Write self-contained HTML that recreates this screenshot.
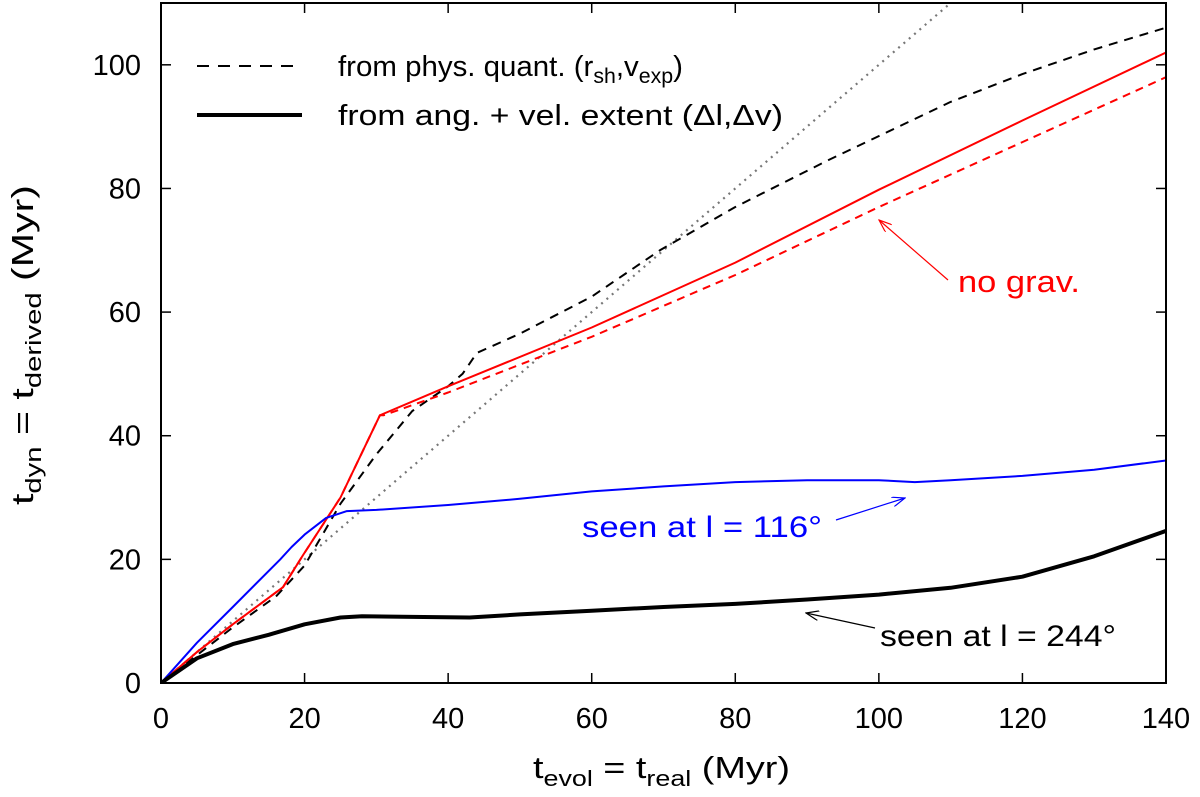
<!DOCTYPE html>
<html><head><meta charset="utf-8"><style>
body{margin:0;background:#fff}
svg text{font-family:"Liberation Sans",sans-serif}
</style></head><body>
<svg id="c" width="1200" height="792">
<defs>
<marker id="ak" markerWidth="14" markerHeight="10" refX="13" refY="5" orient="auto" markerUnits="userSpaceOnUse"><path d="M0,0 L13,5 L0,10" fill="none" stroke="#000" stroke-width="1.2"/></marker>
<marker id="ab" markerWidth="14" markerHeight="10" refX="13" refY="5" orient="auto" markerUnits="userSpaceOnUse"><path d="M0,0 L13,5 L0,10" fill="none" stroke="#00f" stroke-width="1.2"/></marker>
<marker id="arr" markerWidth="14" markerHeight="10" refX="13" refY="5" orient="auto" markerUnits="userSpaceOnUse"><path d="M0,0 L13,5 L0,10" fill="none" stroke="#f00" stroke-width="1.2"/></marker>
</defs>
</svg>
<script>
const xTicks=[0,20,40,60,80,100,120,140];
const yTicks=[0,20,40,60,80,100];
const redX=[0,5,10,17,19.8,25,30.5,40,60,80,100,120,140];
const redY=[0,5,9.5,15.5,20.7,30,43.3,48,57.5,68,79.8,91,102];
const redDX=[0,5,10,17,19.8,25,30.5,31,40,60,80,100,120,140];
const redDY=[0,5,9.5,15.5,20.7,30,43.3,43.3,47,56,66,77,87.5,98];
const blkDX=[0,10,16,20,25,30,35,40,42,44,50,60,69.5,80,93,110,120,130,140];
const blkDY=[0,9,14,19,29,37,44,48,50,53.4,56.5,62.5,70,77,84.6,94,98.5,102.5,106];
const dotX=[0,110];
const dotY=[0,110];
const bluX=[0,5,10,16.6,18.2,20,23,25.9,30,40,50,60,70,80,90,100,105,110,120,130,140];
const bluY=[0,6.5,12.3,20,22,24,26.7,27.8,28,28.8,29.8,31,31.8,32.5,32.8,32.8,32.5,32.8,33.5,34.5,36];
const blkX=[0,5,10,15,20,25,28,35,43,50,60,70,80,90,100,110,120,130,140];
const blkY=[0,4,6.3,7.8,9.5,10.6,10.8,10.7,10.6,11.1,11.7,12.3,12.8,13.5,14.3,15.4,17.2,20.5,24.6];

const L=161,R=1166,T=3,B=683;
const sx=v=>L+(v/140)*(R-L);
const sy=v=>B-(v/110)*(B-T);
const svg=document.getElementById('c');
const NS='http://www.w3.org/2000/svg';
function mk(tag,at){const e=document.createElementNS(NS,tag);for(const k in at)e.setAttribute(k,at[k]);svg.appendChild(e);return e;}
function line(xs,ys,stroke,w,dash,name){
  const d=xs.map((x,i)=>(i?'L':'M')+sx(x).toFixed(1)+','+sy(ys[i]).toFixed(1)).join('');
  const p=mk('path',{d:d,fill:'none',stroke:stroke,'stroke-width':w,'stroke-dasharray':dash||'none','stroke-linejoin':'round','clip-path':'url(#clip)'});
  
  
}
const cp=mk('clipPath',{id:'clip'});const cr=document.createElementNS(NS,'rect');
cr.setAttribute('x',L);cr.setAttribute('y',T);cr.setAttribute('width',R-L);cr.setAttribute('height',B-T);cp.appendChild(cr);

xTicks.forEach(v=>{
  const t=mk('line',{x1:sx(v),x2:sx(v),y1:B,y2:B-10,stroke:'#000','stroke-width':1.5});
  
  const t2=mk('line',{x1:sx(v),x2:sx(v),y1:T,y2:T+10,stroke:'#000','stroke-width':1.5});
  
  const l=mk('text',{x:sx(v),y:728,'font-size':29,'text-anchor':'middle'});l.textContent=v;
  
});
yTicks.forEach(v=>{
  const t=mk('line',{x1:L,x2:L+10,y1:sy(v),y2:sy(v),stroke:'#000','stroke-width':1.5});
  
  const t2=mk('line',{x1:R,x2:R-10,y1:sy(v),y2:sy(v),stroke:'#000','stroke-width':1.5});
  
  const l=mk('text',{x:141,y:sy(v)+10,'font-size':29,'text-anchor':'end'});l.textContent=v;
  
});

line(dotX,dotY,'#777',2.2,'2,5','identity-dotted-line');
line(blkDX,blkDY,'#000',2,'9,7','phys-quant-dashed');
line(redDX,redDY,'#f00',2,'8,6','no-grav-dashed');
line(redX,redY,'#f00',2,'','no-grav-solid');
line(bluX,bluY,'#00f',2,'','seen-116-line');
line(blkX,blkY,'#000',4,'','seen-244-line');

const fr=mk('rect',{x:L,y:T,width:R-L,height:B-T,fill:'none',stroke:'#000','stroke-width':2});

</script>
<svg width="1200" height="792" style="position:absolute;left:0;top:0">
<g font-size="29">
<line x1="197" y1="66" x2="302" y2="66" stroke="#000" stroke-width="2" stroke-dasharray="12,9"/>
<text x="338" y="76" textLength="345" lengthAdjust="spacingAndGlyphs">from phys. quant. (r<tspan font-size="21" dy="7">sh</tspan><tspan dy="-7">,v</tspan><tspan font-size="21" dy="7">exp</tspan><tspan dy="-7">)</tspan></text>
<line x1="197" y1="115" x2="302" y2="115" stroke="#000" stroke-width="4"/>
<text x="338" y="125" textLength="445" lengthAdjust="spacingAndGlyphs">from ang. + vel. extent (Δl,Δv)</text>
</g>
<text x="958" y="292" font-size="31" fill="#f00" textLength="122" lengthAdjust="spacingAndGlyphs">no grav.</text>
<line x1="948" y1="280" x2="879" y2="220" stroke="#f00" stroke-width="1.2" marker-end="url(#arr)"/>
<text x="582" y="537" font-size="30" fill="#00f" textLength="240" lengthAdjust="spacingAndGlyphs">seen at l = 116°</text>
<line x1="836" y1="520" x2="905" y2="498" stroke="#00f" stroke-width="1.2" marker-end="url(#ab)"/>
<text x="880" y="646" font-size="30" fill="#000" textLength="236" lengthAdjust="spacingAndGlyphs">seen at l = 244°</text>
<line x1="875" y1="628" x2="806" y2="613" stroke="#000" stroke-width="1.2" marker-end="url(#ak)"/>
<text x="533" y="778" font-size="31" textLength="257" lengthAdjust="spacingAndGlyphs">t<tspan font-size="22" dy="8">evol</tspan><tspan dy="-8"> = t</tspan><tspan font-size="22" dy="8">real</tspan><tspan dy="-8"> (Myr)</tspan></text>
<text transform="translate(33,505) rotate(-90)" font-size="31" textLength="320" lengthAdjust="spacingAndGlyphs">t<tspan font-size="22" dy="8">dyn</tspan><tspan dy="-8"> = t</tspan><tspan font-size="22" dy="8">derived</tspan><tspan dy="-8"> (Myr)</tspan></text>
</svg>
</body></html>
